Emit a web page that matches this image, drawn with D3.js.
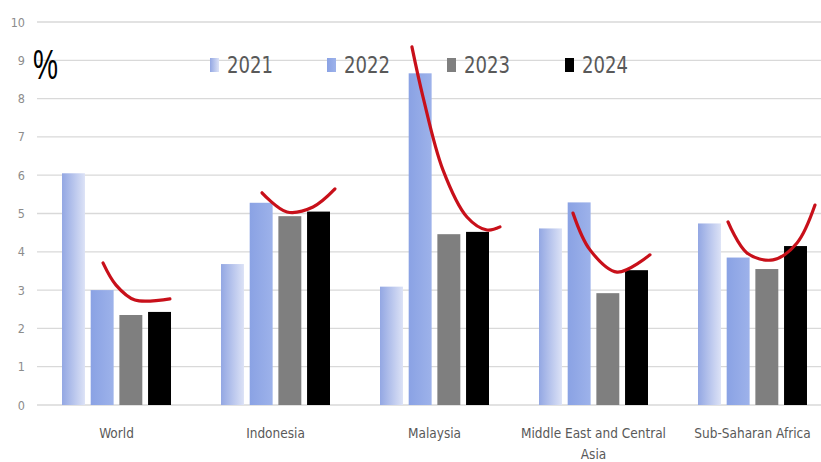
<!DOCTYPE html>
<html>
<head>
<meta charset="utf-8">
<script src="https://cdn.jsdelivr.net/npm/d3@7"></script>
<style>
  body { margin: 0; background: #fff; }
  svg { display: block; }
</style>
</head>
<body>
<div id="container"></div>
<script>
var width = 821;
var height = 462;

// data
var regions = ["World", "Indonesia", "Malaysia", "Middle East and Central Asia", "Sub-Saharan Africa"];
var years = ["2021", "2022", "2023", "2024"];
var v2021 = [6.05, 3.68, 3.09, 4.61, 4.74];
var v2022 = [3.00, 5.28, 8.66, 5.29, 3.85];
var v2023 = [2.35, 4.93, 4.46, 2.92, 3.55];
var v2024 = [2.43, 5.05, 4.52, 3.52, 4.15];
var yTicks = [0, 1, 2, 3, 4, 5, 6, 7, 8, 9, 10];

// hand drawn red marks, as [group position, value]
var markWorld = [[0.415, 3.71], [0.497, 3.13], [0.616, 2.74], [0.836, 2.77]];
var markIndonesia = [[1.415, 5.54], [1.572, 5.04], [1.736, 5.17], [1.874, 5.64]];
var markMalaysia = [[2.358, 9.35], [2.428, 8.04], [2.553, 6.14], [2.704, 4.91], [2.830, 4.57], [2.912, 4.65]];
var markMiddleEast = [[3.371, 5.01], [3.478, 4.05], [3.648, 3.47], [3.855, 3.92]];
var markAfrica = [[4.346, 4.78], [4.465, 3.97], [4.629, 3.79], [4.780, 4.23], [4.893, 5.22]];

var series = [v2021, v2022, v2023, v2024];
var fills = ["url(#g2021)", "url(#g2022)", "#7f7f7f", "#000000"];

var margin = {left: 37, right: -11, top: 22, bottom: 57};
var narrow = "'Liberation Sans Narrow', 'DejaVu Sans Condensed', sans-serif";

var svg = d3.select("#container").append("svg")
  .attr("width", width).attr("height", height);

var defs = svg.append("defs");
var g1 = defs.append("linearGradient").attr("id", "g2021")
  .attr("x1", "0").attr("x2", "1").attr("y1", "0").attr("y2", "0");
g1.append("stop").attr("offset", "0%").attr("stop-color", "#93a7e3");
g1.append("stop").attr("offset", "100%").attr("stop-color", "#dce2f6");
var g2 = defs.append("linearGradient").attr("id", "g2022")
  .attr("x1", "0").attr("x2", "1").attr("y1", "0").attr("y2", "0");
g2.append("stop").attr("offset", "0%").attr("stop-color", "#8aa2e4");
g2.append("stop").attr("offset", "100%").attr("stop-color", "#9db2ea");

var x0 = d3.scaleBand().domain(regions)
  .range([margin.left, width - margin.right])
  .paddingInner(0.3145).paddingOuter(0.1573);
var x1 = d3.scaleBand().domain(years)
  .range([0, x0.bandwidth()]).paddingInner(0.2);
var y = d3.scaleLinear().domain([0, 10]).range([height - margin.bottom, margin.top]);
var xc = d3.scaleLinear().domain([0, regions.length])
  .range([margin.left, width - margin.right]);

// grid
svg.append("g").selectAll("line").data(yTicks).enter().append("line")
  .attr("x1", margin.left).attr("x2", width)
  .attr("y1", function(d){ return y(d); }).attr("y2", function(d){ return y(d); })
  .attr("stroke", "#d9d9d9").attr("stroke-width", 1.3);

svg.append("g").selectAll("text").data(yTicks).enter().append("text")
  .attr("x", 25).attr("y", function(d){ return y(d) + 4.5; })
  .attr("text-anchor", "end")
  .style("font-family", narrow)
  .style("font-size", "12.5px").attr("fill", "#8c8c8c")
  .text(function(d){ return d; });

// bars
var groups = svg.append("g").selectAll("g").data(regions).enter().append("g")
  .attr("transform", function(d){ return "translate(" + x0(d) + ",0)"; });

groups.selectAll("rect")
  .data(function(d, i){ return years.map(function(yr, k){ return {yr: yr, k: k, v: series[k][i]}; }); })
  .enter().append("rect")
  .attr("x", function(d){ return x1(d.yr); })
  .attr("width", x1.bandwidth())
  .attr("y", function(d){ return y(d.v); })
  .attr("height", function(d){ return y(0) - y(d.v); })
  .attr("fill", function(d){ return fills[d.k]; });

// category labels
var catLabels = svg.append("g").selectAll("text").data(regions).enter().append("text")
  .attr("x", function(d){ return x0(d) + x0.bandwidth() / 2; })
  .attr("y", 438)
  .attr("text-anchor", "middle")
  .style("font-family", narrow)
  .style("font-size", "13.5px").attr("fill", "#595959");
catLabels.each(function(d){
  var t = d3.select(this);
  if (d === "Middle East and Central Asia") {
    t.append("tspan").attr("x", t.attr("x")).text("Middle East and Central");
    t.append("tspan").attr("x", t.attr("x")).attr("dy", 21).text("Asia");
  } else {
    t.text(d);
  }
});

// legend
var legendX = [210, 327, 447, 565];
var leg = svg.append("g").selectAll("g").data(years).enter().append("g")
  .attr("transform", function(d, i){ return "translate(" + legendX[i] + ",58)"; });
leg.append("rect").attr("width", 9).attr("height", 14)
  .attr("fill", function(d, i){ return fills[i]; });
leg.append("text").attr("x", 17).attr("y", 15)
  .attr("textLength", 46).attr("lengthAdjust", "spacingAndGlyphs")
  .style("font-family", narrow)
  .style("font-size", "23px").attr("fill", "#595959")
  .text(function(d){ return d; });

// % label
svg.append("text").attr("x", 33).attr("y", 79)
  .attr("textLength", 25).attr("lengthAdjust", "spacingAndGlyphs")
  .style("font-family", "'Liberation Sans', sans-serif")
  .style("font-size", "43px").attr("fill", "#000")
  .text("%");

// red marks
var line = d3.line()
  .x(function(d){ return xc(d[0]); })
  .y(function(d){ return y(d[1]); })
  .curve(d3.curveCatmullRom);
svg.append("g").selectAll("path")
  .data([markWorld, markIndonesia, markMalaysia, markMiddleEast, markAfrica])
  .enter().append("path")
  .attr("d", line)
  .attr("fill", "none")
  .attr("stroke", "#c8101a")
  .attr("stroke-width", 3.2)
  .attr("stroke-linecap", "round");
</script>
</body>
</html>
